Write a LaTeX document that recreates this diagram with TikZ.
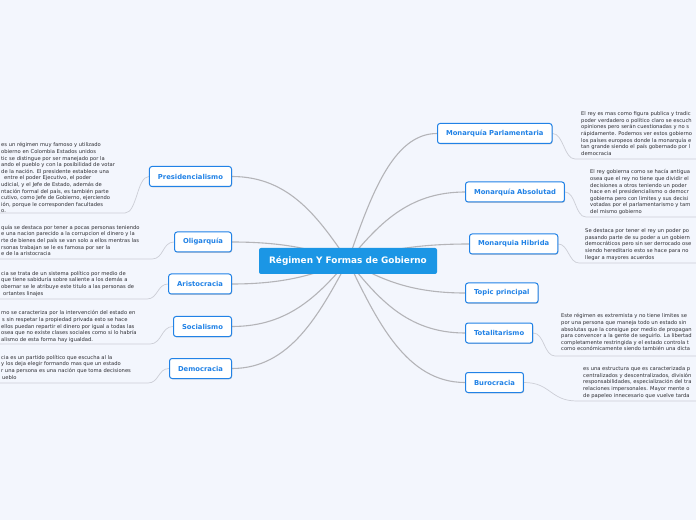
\documentclass[tikz,border=0pt]{standalone}
\usepackage{fontspec}
\setmainfont{DejaVu Sans}
\usetikzlibrary{calc, shadows}
\definecolor{bgblue}{RGB}{243,246,253}
\definecolor{mainblue}{RGB}{27,150,229}
\definecolor{topicblue}{RGB}{33,130,230}
\definecolor{linegray}{RGB}{180,180,184}
\definecolor{notegray}{RGB}{204,206,214}
\definecolor{notetext}{RGB}{45,45,50}
\pgfdeclarelayer{bg}
\pgfdeclarelayer{links}
\pgfsetlayers{bg,links,main}

\begin{document}
\begin{tikzpicture}[x=1pt, y=1pt,
  topic/.style={draw=topicblue, line width=1pt, fill=white, rounded corners=2.5pt, text=topicblue,
    font=\bfseries\fontsize{6.8}{8}\selectfont, minimum height=20pt, inner xsep=8.5pt,
    drop shadow={shadow xshift=0.6pt, shadow yshift=-0.8pt, fill=black, opacity=0.18}},
  note/.style={text=notetext, font=\fontsize{5.2}{6.6}\selectfont, align=left, inner sep=0pt, anchor=north west},
  branch/.style={draw=linegray, line width=1.1pt},
  underline/.style={draw=notegray, line width=0.7pt}]
\useasboundingbox (0,0) rectangle (696,520);
\begin{pgfonlayer}{bg}
\fill[bgblue] (0,0) rectangle (696,520);
\end{pgfonlayer}

% centre
\node[fill=mainblue, rounded corners=2pt, text=white, font=\bfseries\fontsize{8.9}{10}\selectfont,
  minimum width=178pt, minimum height=26pt] (main) at (348,259) {Régimen Y Formas de Gobierno};

% left topics
\node[topic, anchor=east] (pres) at (232,343.5) {Presidencialismo};
\node[topic, anchor=east] (olig) at (232,278) {Oligarquía};
\node[topic, anchor=east] (arist) at (232,236) {Aristocracia};
\node[topic, anchor=east] (soc) at (232,193.5) {Socialismo};
\node[topic, anchor=east] (dem) at (232,151.5) {Democracia};

% right topics
\node[topic, anchor=west] (mparl) at (437,386.5) {Monarquía Parlamentaria};
\node[topic, anchor=west] (mabs) at (465,328) {Monarquía Absolutad};
\node[topic, anchor=west] (mhib) at (469,276) {Monarquia Hibrida};
\node[topic, anchor=west] (tp) at (465,227) {Topic principal};
\node[topic, anchor=west] (total) at (465,187) {Totalitarismo};
\node[topic, anchor=west] (buro) at (465,137.5) {Burocracia};

\begin{pgfonlayer}{links}
\foreach \t/\a in {pres/east, olig/east, arist/east, soc/east, dem/east,
                   mparl/west, mabs/west, mhib/west, tp/west, total/west, buro/west}{
  \path ($(main.center)!0.25!(\t.\a)$) coordinate (b1) ($(main.center)!0.5!(\t.\a)$) coordinate (b2);
  \draw[branch] (main.center) .. controls (b1 |- b2) and (b2 |- \t.\a) .. (\t.\a);
}
% note lines
\draw[underline] (pres.west) .. controls +(-12,0) and +(12,0) .. (125,307) -- (0,307);
\draw[underline] (olig.west) .. controls +(-12,0) and +(12,0) .. (152,261) -- (0,261);
\draw[underline] (arist.west) .. controls +(-11,0) and +(11,0) .. (147,221) -- (0,221);
\draw[underline] (soc.west) .. controls +(-12,0) and +(12,0) .. (150,176) -- (0,176);
\draw[underline] (dem.west) .. controls +(-11,0) and +(11,0) .. (148,137) -- (0,137);
\draw[underline] (mparl.east) .. controls +(11,0) and +(-11,0) .. (575,361) -- (696,361);
\draw[underline] (mabs.east) .. controls +(11,0) and +(-11,0) .. (586,303) -- (696,303);
\draw[underline] (mhib.east) .. controls +(10,0) and +(-10,0) .. (579,257) -- (696,257);
\draw[underline] (total.east) .. controls +(11,0) and +(-11,0) .. (555,164) -- (696,164);
\draw[underline] (buro.east) .. controls +(27,0) and +(-27,0) .. (577,119) -- (696,119);
\end{pgfonlayer}

% notes
\begin{scope}
\clip (0,0) rectangle (696,520);
\node[note] (presnote) at (1,377.5) {es un régimen muy famoso y utilizado\\
obierno en Colombia Estados unidos\\
tic se distingue por ser manejado por la\\
ando el pueblo y con la posibilidad de votar\\
de la nación. El presidente establece una\\
\hspace*{3pt}entre el poder Ejecutivo, el poder\\
udicial, y el Jefe de Estado, además de\\
ntación formal del país, es también parte\\
cutivo, como Jefe de Gobierno, ejerciendo\\
ión, porque le corresponden facultades\\
o.};
\node[note] (olignote) at (1,295) {quía se destaca por tener a pocas personas teniendo\\
e una nacion parecido a la corrupcion el dinero y la\\
rte de bienes del país se van solo a ellos mentras las\\
rsonas trabajan se le es famosa por ser la\\
e de la aristocracia};
\node[note] (aristnote) at (1,249) {cia se trata de un sistema político por medio de\\
que tiene sabiduría sobre saliente a los demás a\\
obernar se le atribuye este titulo a las personas de\\
\hspace*{2pt}ortantes linajes};
\node[note] (socnote) at (1,209.5) {mo se caracteriza por la intervención del estado en\\
\hspace*{1pt}s sin respetar la propiedad privada esto se hace\\
ellos puedan repartir el dinero por igual a todas las\\
osea que no existe clases sociales como si lo habría\\
alismo de esta forma hay igualdad.};
\node[note] (demnote) at (1,165) {cia es un partido político que escucha al la\\
y los deja elegir formando mas que un estado\\
r una persona es una nación que toma decisiones\\
\hspace*{1pt}ueblo};

\node[note] (mparlnote) at (581,408.5) {El rey es mas como figura publica y tradic\\
poder verdadero o político claro se escuch\\
opiniones pero serán cuestionadas y no s\\
rápidamente. Podemos ver estos gobierno\\
los países europeos donde la monarquía e\\
tan grande siendo el país gobernado por l\\
democracia};
\node[note] (mabsnote) at (590,350.5) {El rey gobierna como se hacía antigua\\
osea que el rey no tiene que dividir el\\
decisiones a otros teniendo un poder\\
hace en el presidencialismo o democr\\
gobierna pero con limites y sus decisi\\
votadas por el parlamentarismo y tam\\
del mismo gobierno};
\node[note] (mhibnote) at (585,291.5) {Se destaca por tener el rey un poder po\\
pasando parte de su poder a un gobiern\\
democráticos pero sin ser derrocado ose\\
siendo hereditario esto se hace para no\\
llegar a mayores acuerdos};
\node[note] (totalnote) at (561,206.5) {Este régimen es extremista y no tiene limites se\\
por una persona que maneja todo un estado sin\\
absolutas que la consigue por medio de propagan\\
para convencer a la gente de seguirlo. La libertad\\
completamente restringida y el estado controla t\\
como económicamente siendo también una dicta};
\node[note] (buronote) at (583,153.5) {es una estructura que es caracterizada p\\
centralizados y descentralizados, división\\
responsabilidades, especialización del tra\\
relaciones impersonales. Mayor mente o\\
de papeleo innecesario que vuelve tarda};
\end{scope}
\end{tikzpicture}
\end{document}
